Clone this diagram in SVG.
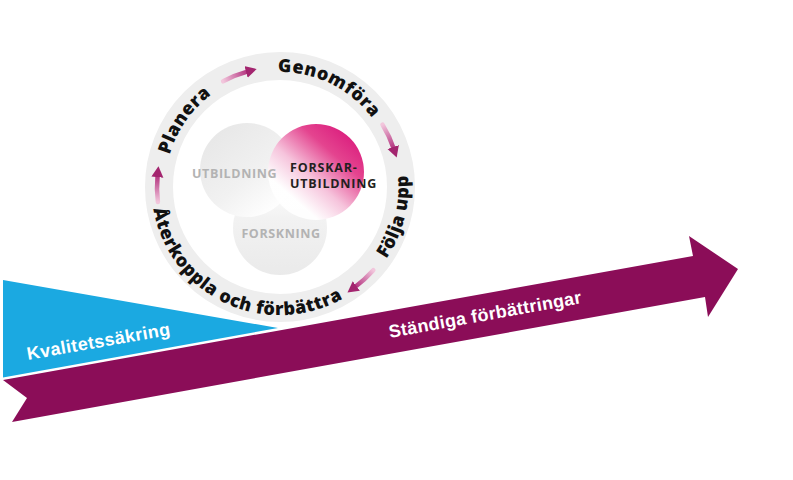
<svg xmlns="http://www.w3.org/2000/svg" width="793" height="480" viewBox="0 0 793 480">
<defs>
<style>
.ring-label{font-family:"Open Sans","DejaVu Sans",sans-serif;font-weight:800;font-size:18px;fill:#111;letter-spacing:0.5px}
.inner-gray{font-family:"Open Sans","DejaVu Sans",sans-serif;font-weight:700;font-size:12.5px;fill:#b3b3b3;letter-spacing:0.6px}
.inner-dark{font-family:"Open Sans","DejaVu Sans",sans-serif;font-weight:700;font-size:12.5px;fill:#231f20;letter-spacing:0.8px}
.band-label{font-family:"Liberation Sans",Arial,sans-serif;font-weight:700;font-size:18px;fill:#fff}
.cyc{fill:none;stroke-width:4.5;stroke-linecap:round;marker-end:url(#ah)}
</style>
<marker id="ah" markerUnits="userSpaceOnUse" markerWidth="14" markerHeight="14" refX="2" refY="6" orient="auto">
<path d="M0,0 L11,6 L0,12 z" fill="#a3256f"/>
</marker>
<linearGradient id="gPink" x1="0.9" y1="0.05" x2="0.15" y2="0.9">
<stop offset="0" stop-color="#d9157a"/>
<stop offset="0.3" stop-color="#e4448f"/>
<stop offset="0.6" stop-color="#f6c4dc"/>
<stop offset="0.85" stop-color="#ffffff" stop-opacity="0.95"/>
</linearGradient>
<linearGradient id="gLeft" x1="0.2" y1="0.1" x2="0.85" y2="0.9">
<stop offset="0" stop-color="#e8e8e8"/>
<stop offset="0.55" stop-color="#f1f1f1"/>
<stop offset="1" stop-color="#ffffff"/>
</linearGradient>
<linearGradient id="gBottom" x1="0.5" y1="1" x2="0.5" y2="0">
<stop offset="0" stop-color="#eaeaea"/>
<stop offset="0.6" stop-color="#f2f2f2"/>
<stop offset="1" stop-color="#ffffff"/>
</linearGradient>
<linearGradient id="a1" gradientUnits="userSpaceOnUse" x1="223" y1="81" x2="248" y2="71"><stop offset="0" stop-color="#f2c6dc"/><stop offset="1" stop-color="#b12e7c"/></linearGradient>
<linearGradient id="a2" gradientUnits="userSpaceOnUse" x1="382" y1="125" x2="394" y2="149"><stop offset="0" stop-color="#f2c6dc"/><stop offset="1" stop-color="#b12e7c"/></linearGradient>
<linearGradient id="a3" gradientUnits="userSpaceOnUse" x1="373" y1="270" x2="355" y2="287"><stop offset="0" stop-color="#f2c6dc"/><stop offset="1" stop-color="#b12e7c"/></linearGradient>
<linearGradient id="a4" gradientUnits="userSpaceOnUse" x1="158" y1="202" x2="158" y2="175"><stop offset="0" stop-color="#f2c6dc"/><stop offset="1" stop-color="#b12e7c"/></linearGradient>
<path id="cwPath" d="M165,187 A115,115 0 1 1 395,187 A115,115 0 1 1 165,187"/>
<path id="ccwPath" d="M344,297.85 A128,128 0 1 0 216,76.15 A128,128 0 1 0 344,297.85"/>
</defs>
<rect width="793" height="480" fill="#fff"/>

<g id="ring">
<circle cx="280" cy="187" r="121" fill="none" stroke="#eeeeee" stroke-width="28"/>
</g>

<g id="circle-forskning">
<circle cx="280" cy="228" r="47" fill="url(#gBottom)"/>
<text class="inner-gray" x="281" y="238" text-anchor="middle">FORSKNING</text>
</g>
<g id="circle-utbildning">
<circle cx="247" cy="170" r="47" fill="url(#gLeft)"/>
</g>
<g id="circle-forskarutbildning">
<circle cx="316" cy="172" r="48" fill="url(#gPink)"/>
</g>
<g id="labels-inner">
<text class="inner-gray" x="192" y="178">UTBILDNING</text>
<text class="inner-dark" x="290" y="172">FORSKAR-</text>
<text class="inner-dark" x="290" y="188">UTBILDNING</text>
</g>

<g id="step-planera"><text class="ring-label"><textPath href="#cwPath" startOffset="70" text-anchor="middle">Planera</textPath></text></g>
<g id="step-genomfora"><text class="ring-label"><textPath href="#cwPath" startOffset="233" text-anchor="middle">Genomföra</textPath></text></g>
<g id="step-folja-upp"><text class="ring-label"><textPath href="#ccwPath" startOffset="102" text-anchor="middle">Följa upp</textPath></text></g>
<g id="step-aterkoppla"><text class="ring-label"><textPath href="#ccwPath" startOffset="682" text-anchor="middle">Återkoppla och förbättra</textPath></text></g>

<g id="connectors">
<path class="cyc" stroke="url(#a1)" d="M223.1,81.3 A120,120 0 0 1 248,71.4"/>
<path class="cyc" stroke="url(#a2)" d="M382.5,124.7 A120,120 0 0 1 393.8,148.9"/>
<path class="cyc" stroke="url(#a3)" d="M373.3,270.2 A125,125 0 0 1 354.7,287.2"/>
<path class="cyc" stroke="url(#a4)" d="M157.9,202 A123,123 0 0 1 157.6,175.2"/>
</g>

<g id="kvalitetssakring">
<polygon points="3,280 278,328 3,377.5" fill="#1ba9e1"/>
<text class="band-label" x="28" y="360" transform="rotate(-10 28 360)" letter-spacing="0.4">Kvalitetssäkring</text>
</g>

<g id="standiga-forbattringar">
<polygon points="3,380 693,256 689,236 738,269 708,317 705,297 12,422 27,398" fill="#8b0d58"/>
<text class="band-label" x="390" y="338" transform="rotate(-10.3 390 338)" letter-spacing="0.3">Ständiga förbättringar</text>
</g>
</svg>
